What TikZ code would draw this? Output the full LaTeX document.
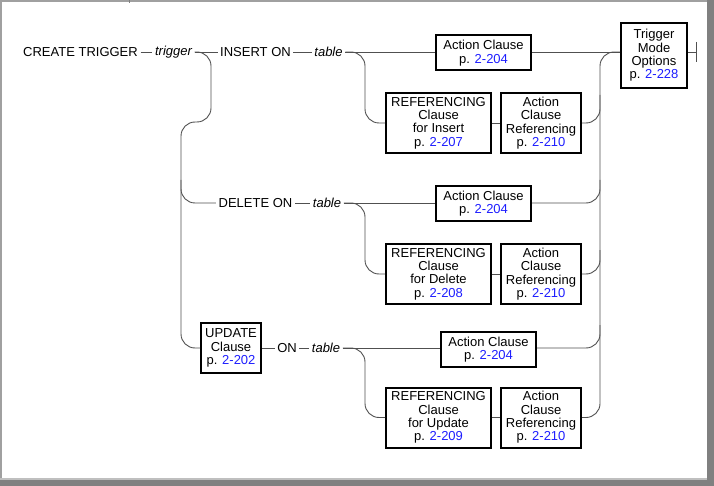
\documentclass[tikz,border=0pt]{standalone}
\usepackage{fontspec}
\setmainfont{Liberation Sans}
\definecolor{pblue}{RGB}{30,30,255}
\definecolor{lnc}{RGB}{80,80,80}
\definecolor{bandc}{RGB}{128,128,128}
\definecolor{edgec}{RGB}{160,160,160}
\newcommand{\pg}[1]{p. \textcolor{pblue}{#1}}
\begin{document}
\begin{tikzpicture}[x=1pt,y=-1pt,
  lbl/.style={inner xsep=2.5pt, inner ysep=0pt, font=\fontsize{13}{13.3}\selectfont},
  ilbl/.style={inner xsep=2.5pt, inner ysep=0pt, font=\fontsize{13}{13.3}\selectfont\itshape},
  box/.style={draw=black, line width=2pt, fill=white, align=center, inner sep=0pt, font=\fontsize{13}{13.3}\selectfont},
  actbox/.style={box, minimum width=95pt, minimum height=35pt},
  refbox/.style={box, minimum width=105pt, minimum height=60pt},
  acrbox/.style={box, minimum width=80pt, minimum height=60pt},
  conn/.style={draw=lnc, line width=0.9pt, rounded corners=14pt},
  plain/.style={draw=lnc, line width=0.9pt},
]
% background and frame
\useasboundingbox (0,0) rectangle (714,486);
\fill[white] (0,0) rectangle (714,486);
\fill[edgec] (0,0) rectangle (2,486);
\fill[edgec] (0,0) rectangle (714,2);
\fill[bandc] (129,0) rectangle (130,3);
\fill[black!25] (0,478) rectangle (714,480);
\fill[bandc] (0,480) rectangle (714,486);
\fill[bandc] (707,0) rectangle (714,486);

% top row
\node[lbl] (ct) at (80.5,52) {CREATE TRIGGER};
\node[ilbl] (trig) at (173.5,52) {trigger};
\node[lbl] (ins) at (255.5,52) {INSERT ON};
\node[ilbl] (tab1) at (328.5,52) {table};
\node[actbox] (actI) at (483.5,53) {Action Clause\\\pg{2-204}};
\node[refbox] (refI) at (438.5,123) {REFERENCING\\Clause\\for Insert\\\pg{2-207}};
\node[acrbox] (acrI) at (541,123) {Action\\Clause\\Referencing\\\pg{2-210}};
\node[box, minimum width=66pt, minimum height=65pt] (tmo) at (654,55.5) {Trigger\\Mode\\Options\\\pg{2-228}};
\coordinate (endb) at (696,52);
\coordinate (barT) at (696,42);
\coordinate (barB) at (696,62);

% delete row
\node[lbl] (del) at (255.5,203) {DELETE ON};
\node[ilbl] (tab2) at (327,203) {table};
\node[actbox] (actD) at (483.5,203.5) {Action Clause\\\pg{2-204}};
\node[refbox] (refD) at (438.5,274) {REFERENCING\\Clause\\for Delete\\\pg{2-208}};
\node[acrbox] (acrD) at (541,274) {Action\\Clause\\Referencing\\\pg{2-210}};

% update row
\node[box, minimum width=60pt, minimum height=50pt] (upd) at (231,348) {UPDATE\\Clause\\\pg{2-202}};
\node[lbl] (on) at (287,348) {ON};
\node[ilbl] (tab3) at (326,348) {table};
\node[actbox] (actU) at (488.5,349.5) {Action Clause\\\pg{2-204}};
\node[refbox] (refU) at (438.5,417.5) {REFERENCING\\Clause\\for Update\\\pg{2-209}};
\node[acrbox] (acrU) at (541,417.5) {Action\\Clause\\Referencing\\\pg{2-210}};

% main line
\draw[plain] (ct.east) -- (trig.west);
\draw[plain] (trig.east) -- (ins.west);
\draw[plain] (ins.east) -- (tab1.west);
\draw[plain] (tab1.east) -- (actI.west |- tab1.east);
\draw[plain] (actI.east |- endb) -- (tmo.west |- endb);
\draw[plain] (tmo.east |- endb) -- (endb);
\draw[plain] (barT) -- (barB);

% left S-curve and vertical
\draw[conn] (trig.east) -- (211,52) -- (211,122) -- (181,122) -- (181,348) -- (upd.west);
\draw[conn] (181,180) |- (del.west);

% insert branch
\draw[conn] (tab1.east) -| (365,123) -- (refI.west);
\draw[plain] (refI.east) -- (acrI.west);

% delete row lines
\draw[plain] (del.east) -- (tab2.west);
\draw[plain] (tab2.east) -- (actD.west |- tab2.east);
\draw[conn] (tab2.east) -| (365,274) -- (refD.west);
\draw[plain] (refD.east) -- (acrD.west);

% update row lines
\draw[plain] (upd.east |- on) -- (on.west);
\draw[plain] (on.east) -- (tab3.west);
\draw[plain] (tab3.east) -- (actU.west |- tab3.east);
\draw[conn] (tab3.east) -| (365,417.5) -- (refU.west);
\draw[plain] (refU.east) -- (acrU.west);

% right merges
\draw[conn] (acrU.east) -| (600,52) -- (tmo.west |- endb);
\draw[conn] (acrI.east) -| (600,95);
\draw[conn] (actD.east |- del) -| (600,180);
\draw[conn] (acrD.east) -| (600,250);
\draw[conn] (actU.east |- on) -| (600,325);
\end{tikzpicture}
\end{document}
